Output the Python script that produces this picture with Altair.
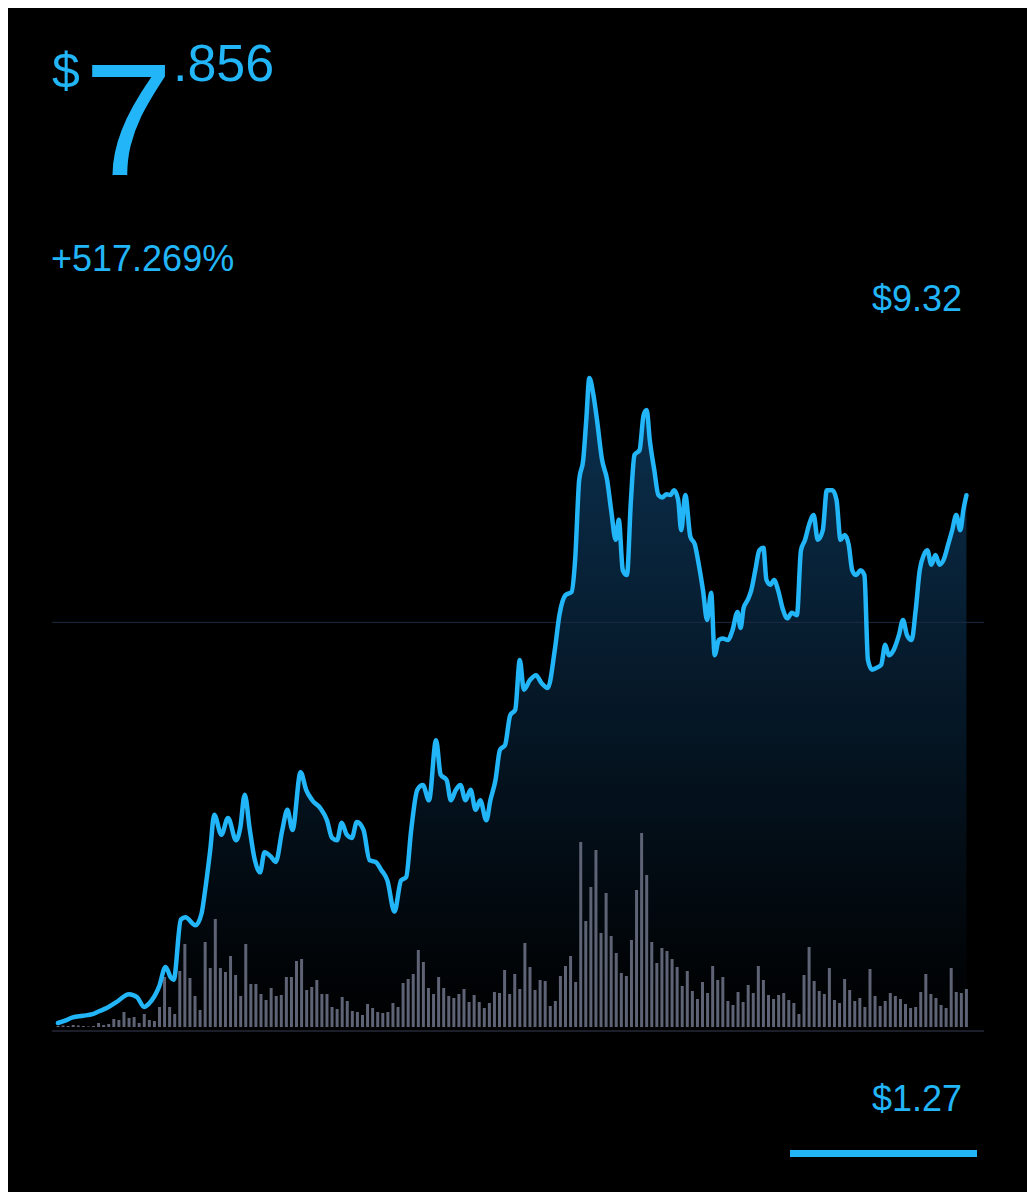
import altair as alt
import pandas as pd

# ---- price line (day index, price in $) ----
line_day = [0, 1.4, 2.9, 4.9, 6.8, 8.2, 9.7, 11.5, 14.0, 15.6, 17.0, 17.9, 19.9, 21.2, 22.2, 22.8,
            24.2, 25.1, 27.1, 28.3, 29.0, 30.0, 30.8, 32.2, 33.5, 35.1, 35.9, 36.8, 37.8, 38.8, 39.8,
            40.7, 41.9, 42.9, 44.2, 45.2, 46.2, 47.8, 48.9, 50.1, 51.7, 53.0, 54.0, 55.0, 55.9, 56.9,
            57.9, 58.9, 60.2, 61.4, 62.6, 63.7, 64.9, 66.3, 67.6, 68.6, 69.6, 70.8, 71.9, 73.1, 74.5,
            75.4, 76.6, 77.4, 78.4, 79.3, 80.3, 81.3, 82.3, 83.2, 84.4, 85.2, 86.2, 87.1, 88.1, 89.1,
            90.1, 91.0, 91.8, 93.0, 94.2, 95.3, 96.5, 97.9, 98.8, 100.0, 101.2, 101.9, 102.7, 103.5,
            104.1, 104.7, 105.5, 106.2, 107.2, 108.2, 109.0, 109.9, 110.5, 111.3, 112.1, 112.9, 113.6,
            114.6, 115.4, 116.0, 116.6, 117.5, 118.3, 119.1, 119.9, 120.7, 121.4, 122.2, 122.8, 123.6,
            124.6, 125.5, 126.1, 127.1, 127.9, 128.7, 129.4, 130.2, 131.0, 132.0, 132.9, 133.9, 134.5,
            135.1, 135.9, 136.6, 137.4, 138.2, 139.0, 139.6, 140.4, 141.1, 141.9, 142.9, 143.7, 144.6,
            145.6, 146.4, 147.2, 148.0, 148.9, 149.7, 150.7, 151.5, 152.6, 153.4, 154.2, 155.0, 155.8,
            156.5, 157.3, 158.1, 158.9, 159.6, 160.4, 161.2, 162.2, 163.0, 163.7, 164.7, 165.7, 166.5,
            167.3, 168.2, 169.0, 169.8, 170.6, 171.3, 172.1, 172.9, 173.7, 174.5, 175.4, 176.2, 177.0,
            177.8, 178.4, 179.0]
line_price = [1.27, 1.30, 1.34, 1.36, 1.38, 1.42, 1.46, 1.53, 1.63, 1.59, 1.47, 1.51, 1.72, 1.97, 1.84,
              1.81, 2.56, 2.59, 2.49, 2.64, 2.93, 3.43, 3.87, 3.62, 3.83, 3.55, 3.70, 4.12, 3.68, 3.30,
              3.15, 3.40, 3.35, 3.28, 3.68, 3.93, 3.68, 4.40, 4.18, 4.05, 3.95, 3.80, 3.58, 3.55, 3.77,
              3.62, 3.58, 3.78, 3.68, 3.30, 3.28, 3.18, 3.05, 2.66, 3.05, 3.09, 3.68, 4.18, 4.24, 4.05,
              4.80, 4.37, 4.30, 4.05, 4.18, 4.24, 4.05, 4.18, 3.93, 4.05, 3.80, 4.05, 4.30, 4.68, 4.74,
              5.11, 5.18, 5.80, 5.43, 5.55, 5.61, 5.51, 5.45, 5.93, 6.36, 6.61, 6.65, 7.05, 8.05, 8.30,
              8.80, 9.32, 9.11, 8.80, 8.30, 8.05, 7.67, 7.30, 7.55, 6.92, 6.86, 7.80, 8.36, 8.42, 8.86,
              8.92, 8.55, 8.17, 7.86, 7.83, 7.87, 7.86, 7.92, 7.80, 7.42, 7.86, 7.34, 7.24, 7.05, 6.67,
              6.30, 6.64, 5.86, 6.05, 6.07, 6.05, 6.17, 6.40, 6.20, 6.45, 6.55, 6.67, 6.92, 7.17, 7.20,
              6.80, 6.74, 6.80, 6.67, 6.42, 6.32, 6.39, 6.36, 7.17, 7.30, 7.49, 7.61, 7.30, 7.42, 7.92,
              7.92, 7.80, 7.30, 7.36, 7.24, 6.92, 6.86, 6.92, 6.86, 5.80, 5.68, 5.70, 5.74, 5.99, 5.86,
              5.93, 6.11, 6.30, 6.11, 6.05, 6.42, 6.92, 7.11, 7.17, 6.99, 7.11, 6.99, 7.05, 7.24, 7.42,
              7.61, 7.42, 7.67, 7.856]

# ---- volume bars (one per day) ----
vol_day = list(range(180))
volume = [1, 1.5, 1, 2, 1.5, 1, 0.5,
          1, 4, 2, 3, 8, 7, 15, 9, 10, 4, 13, 7, 6, 20, 50, 20, 13, 56, 83, 49, 31, 17, 85, 59, 108,
          59, 55, 71, 52,
          31, 83, 43, 43, 33, 27, 39, 31, 32, 50, 50, 66, 68, 37, 40, 47, 33, 33, 20, 18, 30, 26, 16,
          15, 12, 23, 19, 15, 14, 15, 24, 20, 44, 48, 53, 77,
          65, 39, 33, 50, 39, 31, 29, 33, 38, 25, 32, 25, 19, 24, 35, 34, 57, 33, 53, 38, 84, 60, 37,
          47, 46, 21, 26, 51, 61, 71, 45, 185, 106, 140, 177, 94,
          134, 91, 74, 54, 51, 87, 137, 194, 152, 85, 64, 79, 76, 68, 60, 41, 56, 36, 28, 45, 34, 61,
          47, 50, 26, 22, 35, 25, 42, 34, 61, 47, 32, 28, 32, 34,
          27, 24, 13, 52, 80, 46, 36, 33, 59, 27, 24, 48, 37, 26, 29, 20, 58, 31, 21, 26, 34, 31, 28,
          23, 19, 20, 35, 53, 33, 29, 22, 19, 59, 35, 34, 38]

# ---- labels ----
price_int = ["7"]
price_dec = [".856"]
currency = ["$"]
change_label = ["+517.269%"]
high_label = ["$9.32"]
low_label = ["$1.27"]
ref_price = [6.27]
price_min = 1.22
price_max = 9.32

assert len(line_day) == len(line_price)
assert len(vol_day) == len(volume)

BLUE = "#22b5f7"
FONT = "Liberation Sans"

line_df = pd.DataFrame({"day": line_day, "price": line_price})
vol_df = pd.DataFrame({"day": vol_day, "volume": volume})

x_scale = alt.Scale(domain=[-0.195, 181.48], nice=False, zero=False)
p_scale = alt.Scale(domain=[price_min, price_max], nice=False, zero=False)
v_scale = alt.Scale(domain=[0, 649], nice=False)

area = alt.Chart(line_df).mark_area(
    interpolate="monotone",
    color=alt.Gradient(
        gradient="linear",
        stops=[alt.GradientStop(color="#0b3150", offset=0),
               alt.GradientStop(color="#061a2b", offset=0.45),
               alt.GradientStop(color="#000000", offset=1)],
        x1=1, x2=1, y1=0, y2=1),
).encode(
    x=alt.X("day:Q", scale=x_scale, axis=None),
    y=alt.Y("price:Q", scale=p_scale, axis=None),
    y2=alt.datum(price_min),
)

ref = alt.Chart(pd.DataFrame({"p": ref_price})).mark_rule(
    color="#1d2b42", strokeWidth=1
).encode(y=alt.Y("p:Q", scale=p_scale, axis=None))

bars = alt.Chart(vol_df).mark_bar(size=3, color="#5e6375").encode(
    x=alt.X("day:Q", scale=x_scale, axis=None),
    y=alt.Y("volume:Q", scale=v_scale, axis=None),
)

base_rule = alt.Chart(pd.DataFrame({"a": [0]})).mark_rule(
    color="#262938", strokeWidth=1.5
).encode(x=alt.value(0), x2=alt.value(932), y=alt.value(653))

line = alt.Chart(line_df).mark_line(
    interpolate="monotone", color=BLUE, strokeWidth=4.5, strokeCap="round", strokeJoin="round"
).encode(
    x=alt.X("day:Q", scale=x_scale, axis=None),
    y=alt.Y("price:Q", scale=p_scale, axis=None),
)


def label(values, x, y, size, align="left", weight=400, font=FONT):
    return alt.Chart(pd.DataFrame({"t": values})).mark_text(
        align=align, baseline="alphabetic", font=font, fontSize=size,
        fontWeight=weight, color=BLUE,
    ).encode(x=alt.value(x), y=alt.value(y), text="t:N")


t_cur = label(currency, 0, -290, 50)
t_int = label(price_int, 32, -203, 160)
t_dec = label(price_dec, 121, -297, 52)
t_chg = label(change_label, -1, -107, 36)
t_hi = label(high_label, 910, -67, 36, align="right")
t_lo = label(low_label, 910, 733, 36, align="right")

bottom_bar = alt.Chart(pd.DataFrame({"a": [0]})).mark_rule(
    color=BLUE, strokeWidth=7
).encode(x=alt.value(738), x2=alt.value(925), y=alt.value(775.5))

chart = alt.layer(
    area, ref, bars, base_rule, line, t_cur, t_int, t_dec, t_chg, t_hi, t_lo, bottom_bar
).resolve_scale(y="independent").properties(
    width=932, height=649,
    autosize=alt.AutoSizeParams(type="none"),
    padding={"left": 44, "top": 370, "right": 43, "bottom": 165},
    background="#000000",
).configure_view(strokeWidth=0)

chart.save("out.html", embed_options={"renderer": "svg", "actions": False})
